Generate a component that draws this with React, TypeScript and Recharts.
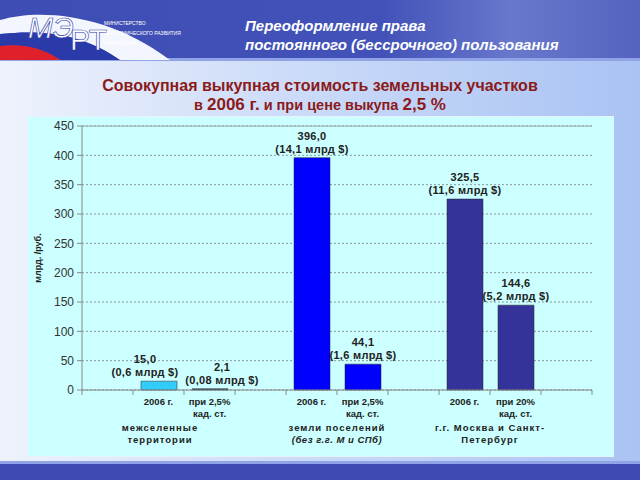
import React from 'react';
import { BarChart, Bar, XAxis, YAxis, CartesianGrid, Cell, LabelList, ReferenceLine } from 'recharts';

// categories along the axis (empty slots are the gaps between groups)
const categoryKeys = ['g0', 'a1', 'a2', 'g1', 'b1', 'b2', 'g2', 'c1', 'c2', 'g3'];
const subLabels = [[], ['2006 г.'], ['при 2,5%', 'кад. ст.'], [], ['2006 г.'], ['при 2,5%', 'кад. ст.'], [], ['2006 г.'], ['при 20%', 'кад. ст.'], []];
const groupLabels = [[], ['межселенные', 'территории'], [], [], ['земли поселений', '(без г.г. М и СПб)'], [], [], ['г.г. Москва и Санкт-', 'Петербург'], [], []];

// млрд. руб.
const values = [null, 15.0, 2.1, null, 396.0, 44.1, null, 325.5, 144.6, null];
// млрд. $
const usdValues = [null, '0,6', '0,08', null, '14,1', '1,6', null, '11,6', '5,2', null];

const yTicks = [0, 50, 100, 150, 200, 250, 300, 350, 400, 450];

const data = categoryKeys.map((k, i) => ({ key: k, value: values[i], usd: usdValues[i] }));

const barColors = ['', '#33CCFF', '#1F3566', '', '#0000FF', '#0000FF', '', '#333399', '#333399', ''];
const groupShift: Record<number, number> = { 1: -24 };
// the two small bars have their labels pushed apart, as in the slide
const labelShift: Record<number, number> = { 1: -14, 2: 12 };

const font = '"Liberation Sans", Arial, sans-serif';

const XTick = (props: any) => {
  const { x, y, payload, index } = props;
  const half = payload && payload.offset ? payload.offset : 25.5;
  const i = index ?? 0;
  const sub = subLabels[i] || [];
  const grp = groupLabels[i] || [];
  return (
    <g>
      <line x1={x - half} x2={x - half} y1={y} y2={y + 5} stroke="#888" />
      {i === categoryKeys.length - 1 && <line x1={x + half} x2={x + half} y1={y} y2={y + 5} stroke="#888" />}
      {sub.map((s, j) => (
        <text key={s} x={x} y={y + 15 + j * 12} textAnchor="middle" fontSize={9.5} fontWeight="bold" fill="#222" fontFamily={font}>
          {s}
        </text>
      ))}
      {grp.map((s, j) => (
        <text
          key={s}
          x={x + half + (groupShift[i] || 0)}
          y={y + 41 + j * 12}
          textAnchor="middle"
          fontSize={9.5}
          fontWeight="bold"
          fontStyle={s.startsWith('(') ? 'italic' : 'normal'}
          letterSpacing={s.startsWith('(') ? 0.5 : 1}
          fill="#222"
          fontFamily={font}
        >
          {s}
        </text>
      ))}
    </g>
  );
};

const BarValueLabel = (props: any) => {
  const { x, y, width, value } = props;
  if (value == null) return null;
  const idx = values.indexOf(value);
  const cx = x + width / 2 + (labelShift[idx] || 0);
  return (
    <g fontFamily={font} fontSize={11} fontWeight="bold" fill="#222" textAnchor="middle" letterSpacing={0.3}>
      <text x={cx} y={y - 18}>{Number(value).toFixed(1).replace('.', ',')}</text>
      <text x={cx} y={y - 5}>{`(${usdValues[idx]} млрд $)`}</text>
    </g>
  );
};

const Logo = () => (
  <svg width={220} height={60} style={{ position: 'absolute', left: 0, top: 0 }}>
    <path d="M0,20 C40,8 110,14 170,60 L120,60 C80,32 40,30 0,34 Z" fill="#F4F6FF" />
    <path d="M0,34 C40,30 80,32 120,60 L60,60 C40,46 20,44 0,46 Z" fill="#2A3AA8" />
    <path d="M0,46 C20,44 40,46 60,60 L0,60 Z" fill="#E0202A" />
    <text x={28} y={38} fontSize={30} fontStyle="italic" fill="#fff" fontFamily={font} stroke="#2A3AA8" strokeWidth={0.6}>МЭ</text>
    <text x={70} y={50} fontSize={30} fill="#fff" fontFamily={font} stroke="#2A3AA8" strokeWidth={0.6}>РТ</text>
    <text x={104} y={25} fontSize={5} fill="#fff" fontFamily={font}>МИНИСТЕРСТВО</text>
    <text x={104} y={35} fontSize={5} fill="#fff" fontFamily={font}>ЭКОНОМИЧЕСКОГО РАЗВИТИЯ</text>
    <text x={104} y={45} fontSize={5} fill="#fff" fontFamily={font}>И ТОРГОВЛИ</text>
  </svg>
);

const App = () => {
  return (
    <div
      style={{
        position: 'absolute',
        left: 0,
        top: 0,
        width: 640,
        height: 480,
        overflow: 'hidden',
        background: 'linear-gradient(90deg, #EEF2FC 0%, #C9D9F8 50%, #A9C3F3 100%)',
        fontFamily: font,
      }}
    >
      {/* header */}
      <div
        style={{
          position: 'absolute',
          left: 0,
          top: 0,
          width: 640,
          height: 58,
          background: 'linear-gradient(90deg, #3E4DB4 0%, #4252B8 60%, #6878CC 80%, #5363BF 100%)',
        }}
      />
      <div style={{ position: 'absolute', left: 0, top: 58, width: 640, height: 3, background: '#8FA3E6' }} />
      <Logo />
      <div style={{ position: 'absolute', left: 245, top: 16, color: '#fff', fontSize: 15, fontWeight: 'bold', fontStyle: 'italic', lineHeight: '19px' }}>
        Переоформление права
        <br />
        постоянного (бессрочного) пользования
      </div>

      {/* title */}
      <div style={{ position: 'absolute', left: 0, top: 76, width: 640, textAlign: 'center', color: '#8B1A1A', fontWeight: 'bold', fontSize: 16, lineHeight: '19px' }}>
        Совокупная выкупная стоимость земельных участков
        <br />
        <span style={{ fontSize: 14.5 }}>в </span>
        <span style={{ fontSize: 17 }}>2006 г.</span>
        <span style={{ fontSize: 14.5 }}> и при цене выкупа </span>
        <span style={{ fontSize: 17 }}>2,5 %</span>
      </div>

      {/* chart box */}
      <div style={{ position: 'absolute', left: 27, top: 116, width: 587, height: 341, background: '#CCFFFF', border: '1px solid #E4F4FA', boxSizing: 'border-box' }} />
      <div
        style={{
          position: 'absolute',
          left: 38,
          top: 258,
          transform: 'translate(-50%, -50%) rotate(-90deg)',
          fontSize: 9,
          fontWeight: 'bold',
          color: '#222',
          whiteSpace: 'nowrap',
        }}
      >
        млрд. /руб.
      </div>
      <div style={{ position: 'absolute', left: 27, top: 116 }}>
        <BarChart width={587} height={341} data={data} margin={{ top: 10, right: 22, left: 0, bottom: 0 }} barSize={36}>
          <CartesianGrid vertical={false} stroke="#8A9A9A" strokeDasharray="2 2" />
          <ReferenceLine y={450} stroke="#9AA" />
          <XAxis
            dataKey="key"
            interval={0}
            height={67}
            tickLine={false}
            tickSize={0}
            tickMargin={0}
            axisLine={{ stroke: '#888' }}
            tick={<XTick />}
          />
          <YAxis
            domain={[0, 450]}
            ticks={yTicks}
            width={55}
            tickSize={5}
            tickMargin={3}
            axisLine={{ stroke: '#888' }}
            tickLine={{ stroke: '#888' }}
            tick={{ fill: '#333', fontSize: 12, fontFamily: font }}
          />
          <YAxis yAxisId="right" orientation="right" width={0} tick={false} axisLine={{ stroke: '#9AA' }} />
          <Bar dataKey="value" isAnimationActive={false} stroke="#222" strokeWidth={0.5}>
            {data.map((d, i) => (
              <Cell key={d.key} fill={barColors[i] || '#333399'} />
            ))}
            <LabelList dataKey="value" content={<BarValueLabel />} />
          </Bar>
        </BarChart>
      </div>

      {/* footer */}
      <div style={{ position: 'absolute', left: 0, top: 461, width: 640, height: 3, background: '#8FA3E6' }} />
      <div style={{ position: 'absolute', left: 0, top: 464, width: 640, height: 16, background: '#3F4BB2' }} />
    </div>
  );
};

export default App;
